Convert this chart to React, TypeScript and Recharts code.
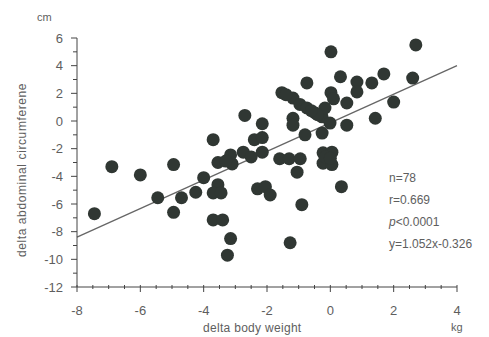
import { ScatterChart, Scatter, XAxis, YAxis, ReferenceLine } from 'recharts';

const weightChange = [
  -7.45, -6.9, -6.0, -4.95, -5.45, -4.95, -4.7, -4.25, -4.0, -3.55,
  -3.7, -3.45, -3.7, -3.4, -3.15, -3.25, -3.7, -3.55, -3.1, -3.15,
  -2.75, -2.15, -2.4, -2.15, -2.15, -2.7, -2.3, -2.05, -1.9, -1.6,
  -1.3, -0.95, -1.05, -0.9, -1.27, 0.35, -0.23, 0.05, -0.23, 0.05,
  -1.53, -1.18, -0.96, -0.74, -0.48, -0.26, -0.17, -1.18, -1.18, -0.01,
  0.52, -0.8, -0.26, -0.74, 0.02, 2.7, 0.32, 0.84, 0.84, 1.31,
  1.69, 2.6, 2.0, 1.42, 0.52, 0.02, 0.1, -0.4, -0.6, -2.5,
  -0.15, -3.3, 0.0, -1.4,
];
const waistChange = [
  -6.7, -3.3, -3.9, -3.15, -5.55, -6.6, -5.55, -5.15, -4.1, -4.6,
  -5.2, -5.2, -7.15, -7.15, -8.5, -9.7, -1.35, -3.0, -3.1, -2.45,
  -2.25, -2.25, -1.35, -1.2, -0.2, 0.4, -4.9, -4.75, -5.35, -2.73,
  -2.73, -2.73, -3.7, -6.05, -8.8, -4.75, -2.3, -2.25, -3.05, -3.15,
  2.05, 1.66, 1.2, 0.94, 0.58, 0.3, 0.94, 0.2, -0.3, -0.15,
  -0.3, -1.0, -0.87, 2.75, 5.0, 5.5, 3.2, 2.82, 2.1, 2.75,
  3.4, 3.1, 1.37, 0.2, 1.3, 2.05, 1.6, 0.45, 0.75, -2.6,
  -2.6, -2.9, -2.7, 1.9,
];

const xTicks = [-8, -7.5, -7, -6.5, -6, -5.5, -5, -4.5, -4, -3.5, -3, -2.5, -2, -1.5, -1, -0.5, 0, 0.5, 1, 1.5, 2, 2.5, 3, 3.5, 4];
const xLabels = [-8, -6, -4, -2, 0, 2, 4];
const yTicks = [6, 5, 4, 3, 2, 1, 0, -1, -2, -3, -4, -5, -6, -7, -8, -9, -10, -11, -12];
const yLabels = [6, 4, 2, 0, -2, -4, -6, -8, -10, -12];

// fitted line as drawn in the picture
const lineX = [-8, 4];
const lineY = [-8.4, 4.0];

const stats = ['n=78', 'r=0.669', 'p<0.0001', 'y=1.052x-0.326'];

const points = weightChange.map((x, i) => ({ x, y: waistChange[i] }));

const font = '"Liberation Sans", Arial, sans-serif';
const textColor = '#5e5e5e';
const axisColor = '#444';

const XTick = (props: any) => {
  const { x, y, payload } = props;
  const major = xLabels.includes(payload.value);
  return (
    <g>
      <line x1={x} x2={x} y1={y - 2} y2={major ? y + 5 : y + 2} stroke={axisColor} strokeWidth={1} />
      {major && (
        <text x={x} y={y + 23} textAnchor="middle" dy="0.35em" fontSize={13} fill={textColor} fontFamily={font}>
          {payload.value}
        </text>
      )}
    </g>
  );
};

const YTick = (props: any) => {
  const { x, y, payload } = props;
  const major = yLabels.includes(payload.value);
  return (
    <g>
      <line x1={major ? x - 6 : x - 4} x2={x} y1={y} y2={y} stroke={axisColor} strokeWidth={1} />
      {major && (
        <text x={x - 14} y={y} textAnchor="end" dy="0.35em" fontSize={13} fill={textColor} fontFamily={font}>
          {payload.value}
        </text>
      )}
    </g>
  );
};

const Dot = (props: any) => <circle cx={props.cx} cy={props.cy} r={6.5} fill="#303733" />;

export default function App() {
  return (
    <div style={{ position: 'absolute', left: 0, top: 0, width: 489, height: 337, background: '#fff' }}>
      <ScatterChart width={489} height={337} margin={{ top: 38, right: 32, bottom: 0, left: 0 }}>
        <XAxis
          type="number"
          dataKey="x"
          domain={[-8, 4]}
          ticks={xTicks}
          interval={0}
          height={50}
          tickSize={0}
          tickMargin={0}
          tickLine={false}
          axisLine={{ stroke: axisColor }}
          tick={<XTick />}
        />
        <YAxis
          type="number"
          dataKey="y"
          domain={[-12, 6]}
          ticks={yTicks}
          interval={0}
          width={77}
          tickSize={0}
          tickMargin={0}
          tickLine={false}
          axisLine={{ stroke: axisColor }}
          tick={<YTick />}
        />
        <ReferenceLine
          segment={[{ x: lineX[0], y: lineY[0] }, { x: lineX[1], y: lineY[1] }]}
          stroke="#666"
          strokeWidth={1.3}
        />
        <Scatter data={points} shape={<Dot />} isAnimationActive={false} />
      </ScatterChart>
      <div style={{ position: 'absolute', left: 37, top: 11, fontSize: 11, color: textColor, fontFamily: font }}>cm</div>
      <div style={{ position: 'absolute', left: 451, top: 321, fontSize: 11, color: textColor, fontFamily: font }}>kg</div>
      <div style={{ position: 'absolute', left: 203, top: 321, fontSize: 12, color: textColor, fontFamily: font, letterSpacing: 0.3 }}>
        delta body weight
      </div>
      <div
        style={{
          position: 'absolute', left: 22, top: 170, fontSize: 12, color: textColor, fontFamily: font,
          whiteSpace: 'nowrap', letterSpacing: 0.6, transform: 'translate(-50%, -50%) rotate(-90deg)',
        }}
      >
        delta abdominal circumferene
      </div>
      <div style={{ position: 'absolute', left: 389, top: 167, fontSize: 12, color: textColor, fontFamily: font, lineHeight: '22px' }}>
        {stats.map((s, i) => (
          <div key={s}>
            {i === 2 ? (<><i>p</i>{s.slice(1)}</>) : s}
          </div>
        ))}
      </div>
    </div>
  );
}
